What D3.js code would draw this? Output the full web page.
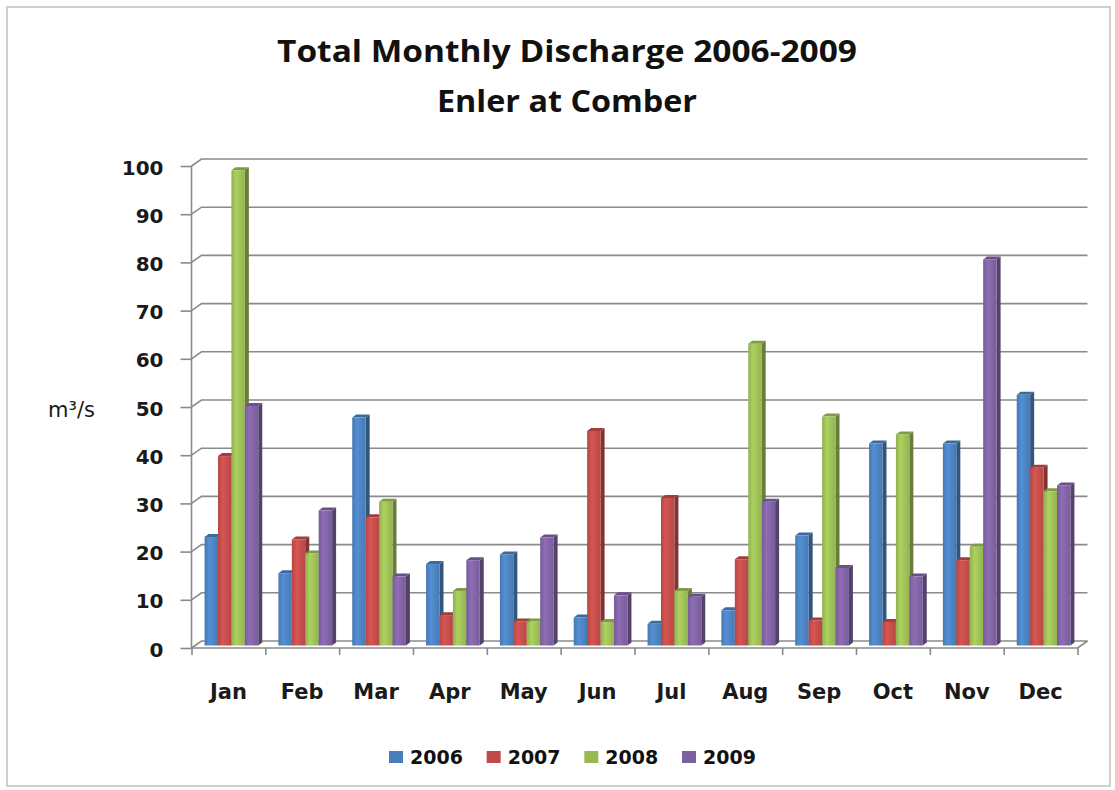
<!DOCTYPE html>
<html lang="en">
<head>
    <meta charset="UTF-8">
    <title>Total Monthly Discharge 2006-2009</title>
    <script src="https://cdn.jsdelivr.net/npm/d3@7"></script>
    <style>
        body{
            margin: 0;
            background: #fff;
        }
        .grid{
            stroke: #8a8a8a;
            stroke-width: 1.6px;
            fill: none;
        }
        .axis path, .axis line{
            stroke: #8a8a8a;
            stroke-width: 1.6px;
        }
        .axis text{
            font-family: "DejaVu Sans", sans-serif;
            font-weight: bold;
            font-size: 20px;
            fill: #1a1a1a;
        }
        .title{
            font-family: "Open Sans", sans-serif;
            font-weight: bold;
            font-size: 30px;
            fill: #111;
        }
        .legend text{
            font-family: "DejaVu Sans", sans-serif;
            font-weight: bold;
            font-size: 19px;
            fill: #111;
        }
    </style>
</head>
<body>
<svg id="svg_main"></svg>
<script>
    // chart data
    const months = ['Jan','Feb','Mar','Apr','May','Jun','Jul','Aug','Sep','Oct','Nov','Dec'];
    const years = ['2006','2007','2008','2009'];
    const q2006 = [22.5, 15, 47.3, 16.9, 18.9, 5.8, 4.5, 7.3, 22.8, 41.9, 41.9, 52];
    const q2007 = [39.3, 22, 26.6, 6.3, 5, 44.5, 30.6, 17.9, 5.2, 4.9, 17.7, 36.9];
    const q2008 = [98.6, 19.1, 29.8, 11.3, 5, 4.9, 11.3, 62.6, 47.5, 43.8, 20.5, 32];
    const q2009 = [49.7, 28, 14.3, 17.7, 22.4, 10.4, 10.1, 29.8, 16.1, 14.3, 80.1, 33.2];
    const yTicks = [0,10,20,30,40,50,60,70,80,90,100];
    const colors = ['#4a7ebb','#be4b48','#98b954','#7d60a0'];

    const series = [q2006, q2007, q2008, q2009];
    const width = 1115, height = 790;

    const svg = d3.select('#svg_main').attr('width', width).attr('height', height);

    // frame
    svg.append('rect')
        .attr('x', 7).attr('y', 7).attr('width', 1103).attr('height', 779)
        .attr('fill', 'none').attr('stroke', '#cfcfcf').attr('stroke-width', 2);

    // title
    svg.append('text').attr('class','title')
        .attr('x', 567).attr('y', 62).attr('text-anchor','middle')
        .attr('textLength', 580).attr('lengthAdjust','spacingAndGlyphs')
        .text('Total Monthly Discharge 2006-2009');
    svg.append('text').attr('class','title')
        .attr('x', 567).attr('y', 112).attr('text-anchor','middle')
        .attr('textLength', 260).attr('lengthAdjust','spacingAndGlyphs')
        .text('Enler at Comber');

    // 3d geometry: front plane, back wall offset by depth
    const left = 191.5, right = 1077.5;
    const depthX = 10, depthY = -7;
    const yFront = d3.scaleLinear().domain([0,100]).range([648, 166]);
    const yBack = v => yFront(v) + depthY;

    const xBand = d3.scaleBand().domain(months).range([left, right]).paddingInner(0).paddingOuter(0);
    const xSub = d3.scaleBand().domain(years).range([0, xBand.bandwidth()]).paddingOuter(0.75);

    const plot = svg.append('g');

    // back wall gridlines + left wall diagonals
    plot.append('g').selectAll('path').data(yTicks).enter().append('path')
        .attr('class','grid')
        .attr('d', d => `M${left},${yFront(d)}L${left+depthX},${yBack(d)}L${right+depthX},${yBack(d)}`);

    // right edge of the floor
    plot.append('path').attr('class','grid')
        .attr('d', `M${right},${yFront(0)}L${right+depthX},${yBack(0)}`);

    // y axis on the front edge of the left wall
    const yAxis = d3.axisLeft(yFront).tickValues(yTicks).tickSize(11).tickPadding(17);
    plot.append('g').attr('class','axis')
        .attr('transform', `translate(${left},0)`)
        .call(yAxis)
        .call(g => g.select('.domain').attr('d', `M0,${yFront(100)}V${yFront(0)}`))
        .selectAll('text').attr('dy', '0.4em');

    // x axis: boundary ticks and month labels
    const xEdge = d3.scaleLinear().domain([0, months.length]).range([left, right]);
    plot.append('g').attr('class','axis')
        .attr('transform', `translate(0,${yFront(0)})`)
        .call(d3.axisBottom(xEdge).tickValues(d3.range(0, months.length+1)).tickSize(7).tickFormat(''))
        .call(g => g.select('.domain').attr('d', `M${left},0H${right}`));
    plot.append('g').attr('class','axis')
        .attr('transform', `translate(0,${yFront(0)})`)
        .call(d3.axisBottom(xBand).tickSize(0).tickPadding(36))
        .call(g => g.select('.domain').remove())
        .selectAll('text').style('font-size', '21px');

    // gradients for bar front faces
    const defs = svg.append('defs');
    colors.forEach((c, i) => {
        const g = defs.append('linearGradient').attr('id','grad'+i)
            .attr('x1','0').attr('x2','1').attr('y1','0').attr('y2','0');
        g.append('stop').attr('offset','0').attr('stop-color', d3.color(c).darker(0.15));
        g.append('stop').attr('offset','0.35').attr('stop-color', d3.color(c).brighter(0.35));
        g.append('stop').attr('offset','1').attr('stop-color', d3.color(c).darker(0.1));
    });

    // bars: front face slightly behind the front plane
    const offX = 3, offY = -2.5, bdx = 4, bdy = -3;
    const bars = [];
    months.forEach((m, mi) => {
        years.forEach((yr, si) => {
            bars.push({month: m, year: yr, si: si, value: series[si][mi]});
        });
    });

    const barG = plot.append('g').selectAll('g').data(bars).enter().append('g');
    const x0 = d => xBand(d.month) + xSub(d.year) + offX;
    const x1 = d => x0(d) + xSub.bandwidth();
    const yb = () => yFront(0) + offY;
    const yt = d => yFront(d.value) + offY;

    // side face
    barG.append('path')
        .attr('fill', d => d3.color(colors[d.si]).darker(1.1))
        .attr('d', d => `M${x1(d)},${yt(d)}L${x1(d)+bdx},${yt(d)+bdy}L${x1(d)+bdx},${yb()+bdy}L${x1(d)},${yb()}Z`);
    // top face
    barG.append('path')
        .attr('fill', d => d3.color(colors[d.si]).darker(0.5))
        .attr('d', d => `M${x0(d)},${yt(d)}L${x0(d)+bdx},${yt(d)+bdy}L${x1(d)+bdx},${yt(d)+bdy}L${x1(d)},${yt(d)}Z`);
    // front face
    barG.append('rect')
        .attr('x', x0).attr('y', yt)
        .attr('width', xSub.bandwidth())
        .attr('height', d => yb() - yt(d))
        .attr('fill', d => `url(#grad${d.si})`);

    // axis title
    svg.append('text')
        .attr('x', 48).attr('y', 417)
        .style('font-family', '"DejaVu Sans", sans-serif')
        .style('font-size', '21px')
        .style('fill', '#1a1a1a')
        .text('m³/s');

    // legend
    const legX = d3.scalePoint().domain(years).range([389, 682]);
    const leg = svg.append('g').attr('class','legend')
        .selectAll('g').data(years).enter().append('g')
        .attr('transform', d => `translate(${legX(d)},757)`);
    leg.append('rect').attr('x', 0).attr('y', -6).attr('width', 14).attr('height', 12)
        .attr('fill', (d, i) => colors[i]);
    leg.append('text').attr('x', 21).attr('y', 7).text(d => d);
</script>
</body>
</html>
